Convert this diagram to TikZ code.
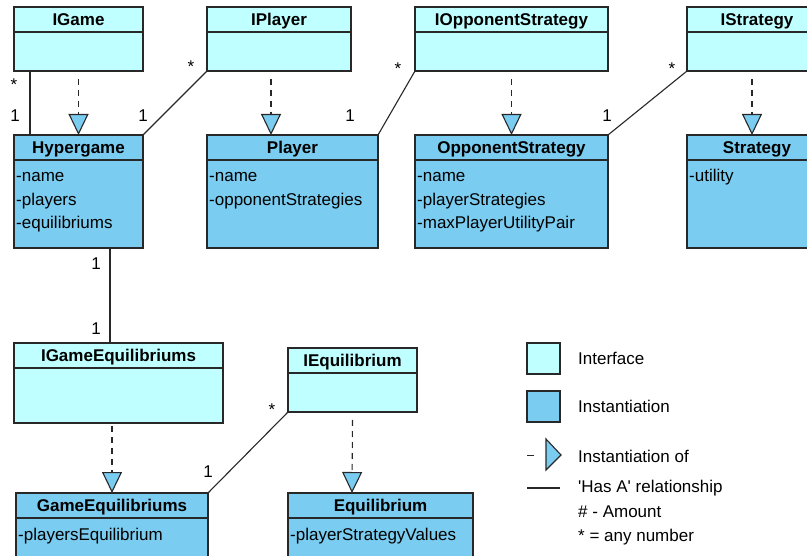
\documentclass[tikz,border=0pt]{standalone}
\usepackage{fontspec}
\setmainfont{Liberation Sans}[Ligatures=TeXOff]
\usetikzlibrary{arrows.meta}
\definecolor{ifcol}{RGB}{192,255,255}
\definecolor{instcol}{RGB}{122,204,240}
\definecolor{edgecol}{RGB}{40,40,40}
\newcommand\umlbox[7]{%
  \node[#6, minimum width=#4pt, minimum height=#5pt] (#1) at (#2,#3) {};
  \draw[boxline] ([yshift=-25pt]#1.north west) -- ([yshift=-25pt]#1.north east);
  \node[titletext] (#1-t) at ([yshift=-18.5pt]#1.north) {#7};
}
\begin{document}
\begin{tikzpicture}[x=1pt,y=-1pt,
  boxline/.style={draw=edgecol, line width=1.1pt},
  classbox/.style={boxline, anchor=north west, inner sep=0pt, outer sep=0pt},
  ifc/.style={classbox, fill=ifcol},
  inst/.style={classbox, fill=instcol},
  txt/.style={inner sep=0pt, font=\fontsize{17}{20}\selectfont},
  titletext/.style={txt, anchor=base, font=\fontsize{17}{20}\selectfont\bfseries},
  attr/.style={txt, anchor=base west},
  mult/.style={txt, anchor=base},
  hasa/.style={draw=edgecol, line width=1.1pt},
  realize/.style={draw=edgecol, line width=1.1pt, dash pattern=on 6pt off 5pt,
    -{Triangle[width=20pt,length=21pt,fill=instcol,line join=miter]}},
]
\useasboundingbox (0,0) rectangle (807,556);
\clip (0,0) rectangle (807,556);
\fill[white] (0,0) rectangle (807,556);

% interfaces, top row
\umlbox{igame}{14}{7}{129}{64}{ifc}{IGame}
\umlbox{iplayer}{207}{7}{144}{64}{ifc}{IPlayer}
\umlbox{iopp}{415}{7}{193}{64}{ifc}{IOpponentStrategy}
\umlbox{istrat}{687}{7}{140}{64}{ifc}{IStrategy}

% instantiations, second row
\umlbox{hyper}{14}{135}{129}{113}{inst}{Hypergame}
\umlbox{player}{207}{135}{171}{113}{inst}{Player}
\umlbox{opp}{415}{135}{193}{113}{inst}{OpponentStrategy}
\umlbox{strat}{687}{135}{140}{113}{inst}{Strategy}

\node[attr] (hyper-a1) at ([xshift=2pt,yshift=-47pt]hyper.north west) {-name};
\node[attr] (hyper-a2) at ([xshift=2pt,yshift=-70.5pt]hyper.north west) {-players};
\node[attr] (hyper-a3) at ([xshift=2pt,yshift=-94pt]hyper.north west) {-equilibriums};
\node[attr] (player-a1) at ([xshift=2pt,yshift=-47pt]player.north west) {-name};
\node[attr] (player-a2) at ([xshift=2pt,yshift=-70.5pt]player.north west) {-opponentStrategies};
\node[attr] (opp-a1) at ([xshift=2pt,yshift=-47pt]opp.north west) {-name};
\node[attr] (opp-a2) at ([xshift=2pt,yshift=-70.5pt]opp.north west) {-playerStrategies};
\node[attr] (opp-a3) at ([xshift=2pt,yshift=-94pt]opp.north west) {-maxPlayerUtilityPair};
\node[attr] (strat-a1) at ([xshift=2pt,yshift=-47pt]strat.north west) {-utility};

% lower part
\umlbox{igeq}{14}{343}{209}{80}{ifc}{IGameEquilibriums}
\umlbox{ieq}{288}{348}{129}{64}{ifc}{IEquilibrium}
\umlbox{geq}{16}{493}{192}{90}{inst}{GameEquilibriums}
\umlbox{eq}{288}{493}{185}{90}{inst}{Equilibrium}
\node[attr] (geq-a1) at ([xshift=2pt,yshift=-47pt]geq.north west) {-playersEquilibrium};
\node[attr] (eq-a1) at ([xshift=2pt,yshift=-47pt]eq.north west) {-playerStrategyValues};

% realization arrows
\draw[realize] ([yshift=-8pt]igame.south) -- (hyper.north);
\draw[realize] ([xshift=64pt,yshift=-8pt]iplayer.south west) -- ([xshift=64pt]player.north west);
\draw[realize] ([yshift=-8pt]iopp.south) -- (opp.north);
\draw[realize] ([xshift=65pt,yshift=-8pt]istrat.south west) -- ([xshift=65pt]strat.north west);
\draw[realize] ([xshift=98pt,yshift=-3pt]igeq.south west) -- (geq.north);
\draw[realize] ([yshift=-8pt]ieq.south) -- ([xshift=64pt]eq.north west);

% has-a associations
\draw[hasa] ([xshift=16pt]igame.south west) -- ([xshift=16pt]hyper.north west);
\draw[hasa] (iplayer.south west) -- (hyper.north east);
\draw[hasa] (iopp.south west) -- (player.north east);
\draw[hasa] (istrat.south west) -- (opp.north east);
\draw[hasa] ([xshift=96pt]hyper.south west) -- ([xshift=96pt]igeq.north west);
\draw[hasa] (ieq.south west) -- (geq.north east);

% multiplicities
\node[mult] (m1s) at (14,91) {*};
\node[mult] (m1o) at (15,122) {1};
\node[mult] (m2s) at (191,73) {*};
\node[mult] (m2o) at (143,122) {1};
\node[mult] (m3s) at (398,75) {*};
\node[mult] (m3o) at (350,122) {1};
\node[mult] (m4s) at (672,75) {*};
\node[mult] (m4o) at (607,122) {1};
\node[mult] (m5a) at (96,270) {1};
\node[mult] (m5b) at (96,335) {1};
\node[mult] (m6s) at (272,416) {*};
\node[mult] (m6o) at (208,478) {1};

% legend
\node[ifc, minimum width=33pt, minimum height=31pt] (lg-if) at (527,343) {};
\node[attr] (lg-if-t) at (578,365) {Interface};
\node[inst, minimum width=33pt, minimum height=31pt] (lg-in) at (527,391) {};
\node[attr] (lg-in-t) at (578,413) {Instantiation};
\draw[draw=edgecol, line width=1.6pt] (527,455.5) -- (533.5,455.5);
\draw[boxline, fill=instcol, line join=miter] (546,439) -- (561,455) -- (546,470) -- cycle;
\node[attr] (lg-of-t) at (578,462) {Instantiation of};
\draw[hasa] (527,488) -- (560,488);
\node[attr] (lg-ha-t) at (578,493) {'Has A' relationship};
\node[attr] (lg-am-t) at (578,517) {\# - Amount};
\node[attr] (lg-an-t) at (578,541) {* = any number};
\end{tikzpicture}
\end{document}
